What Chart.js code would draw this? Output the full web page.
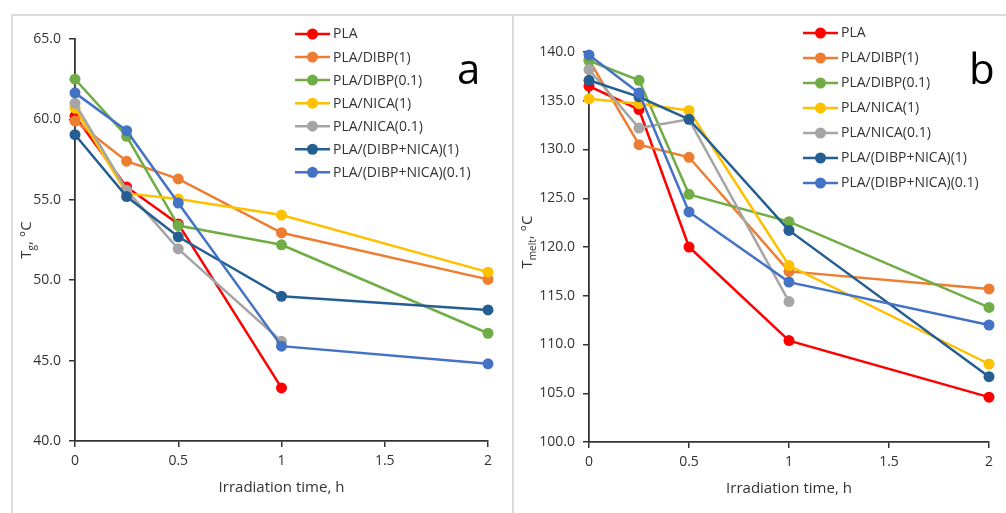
<!DOCTYPE html>
<html>
<head>
<meta charset="utf-8">
<script src="https://cdn.jsdelivr.net/npm/chart.js@4.4.1/dist/chart.umd.min.js"></script>
<style>
  html, body { margin: 0; padding: 0; background: #fff; }
  #wrap { position: relative; width: 1006px; height: 513px; overflow: hidden; background: #fff; }
  .ln { position: absolute; background: #dcdcdc; }
  #ca { position: absolute; left: 0; top: 0; }
  #cb { position: absolute; left: 513px; top: 0; }
</style>
</head>
<body>
<div id="wrap">
  <canvas id="ca" width="513" height="513" style="width:513px;height:513px"></canvas>
  <canvas id="cb" width="493" height="513" style="width:493px;height:513px"></canvas>
  <div class="ln" style="left:11px;top:14px;width:995px;height:2px"></div>
  <div class="ln" style="left:11px;top:14px;width:2px;height:499px"></div>
  <div class="ln" style="left:512px;top:14px;width:2px;height:499px"></div>
</div>
<script>
// ---- data ----
const times = [0, 0.25, 0.5, 1, 2];
const seriesNames = ['PLA', 'PLA/DIBP(1)', 'PLA/DIBP(0.1)', 'PLA/NICA(1)', 'PLA/NICA(0.1)', 'PLA/(DIBP+NICA)(1)', 'PLA/(DIBP+NICA)(0.1)'];
const seriesColors = ['#FF0000', '#ED7D31', '#70AD47', '#FFC000', '#A5A5A5', '#255E91', '#4472C4'];

// Panel a: Tg, °C
const tgPLA     = [60.2, 55.8, 53.5, 43.3, null];
const tgDIBP1   = [59.9, 57.4, 56.3, 52.95, 50.05];
const tgDIBP01  = [62.5, 58.95, 53.4, 52.2, 46.7];
const tgNICA1   = [60.7, 55.4, 55.05, 54.05, 50.5];
const tgNICA01  = [61.0, 55.6, 51.95, 46.2, null];
const tgDN1     = [59.05, 55.2, 52.7, 49.0, 48.15];
const tgDN01    = [61.65, 59.3, 54.8, 45.9, 44.8];

// Panel b: Tmelt, °C
const tmPLA     = [136.5, 134.1, 120.0, 110.4, 104.6];
const tmDIBP1   = [139.2, 130.5, 129.2, 117.5, 115.7];
const tmDIBP01  = [139.1, 137.1, 125.4, 122.6, 113.8];
const tmNICA1   = [135.2, 134.7, 134.0, 118.1, 108.0];
const tmNICA01  = [138.2, 132.2, 133.1, 114.4, null];
const tmDN1     = [137.1, 135.4, 133.1, 121.7, 106.7];
const tmDN01    = [139.7, 135.8, 123.6, 116.4, 112.0];

const xTicks = [0, 0.5, 1, 1.5, 2];
const tgTicks = [40, 45, 50, 55, 60, 65];
const tmTicks = [100, 105, 110, 115, 120, 125, 130, 135, 140];

const tgSeries = [tgPLA, tgDIBP1, tgDIBP01, tgNICA1, tgNICA01, tgDN1, tgDN01];
const tmSeries = [tmPLA, tmDIBP1, tmDIBP01, tmNICA1, tmNICA01, tmDN1, tmDN01];

const FONT = "'Open Sans', 'Liberation Sans', sans-serif";
const TXT = '#333333';
const AX = '#333333';

function makeDatasets(series) {
  const n = series.length;
  return series.map((vals, i) => ({
    label: seriesNames[i],
    data: times.map((t, j) => ({ x: t, y: vals[j] })).filter(p => p.y !== null),
    borderColor: seriesColors[i],
    backgroundColor: seriesColors[i],
    pointBackgroundColor: seriesColors[i],
    pointBorderWidth: 0,
    pointRadius: 5.5,
    borderWidth: 2.5,
    tension: 0,
    clip: false,
    order: n - i
  }));
}

const overlayPlugin = {
  id: 'overlay',
  afterDraw(chart, args, o) {
    const ctx = chart.ctx;
    ctx.save();
    // legend
    chart.data.datasets.forEach((ds, i) => {
      const y = o.legY + i * o.legDy;
      ctx.strokeStyle = ds.borderColor;
      ctx.lineWidth = 2.5;
      ctx.beginPath();
      ctx.moveTo(o.legX, y);
      ctx.lineTo(o.legX + 35, y);
      ctx.stroke();
      ctx.fillStyle = ds.borderColor;
      ctx.beginPath();
      ctx.arc(o.legX + 17.5, y, 5.5, 0, Math.PI * 2);
      ctx.fill();
      ctx.fillStyle = TXT;
      ctx.font = '14px ' + FONT;
      ctx.textBaseline = 'middle';
      ctx.textAlign = 'left';
      ctx.fillText(ds.label, o.legX + 38, y + 0.5);
    });
    // panel letter
    ctx.fillStyle = '#000';
    ctx.font = '42px ' + FONT;
    ctx.textBaseline = 'alphabetic';
    ctx.textAlign = 'left';
    ctx.fillText(o.letter, o.letterX, o.letterY);
    // x title
    ctx.fillStyle = TXT;
    ctx.font = '15px ' + FONT;
    ctx.textAlign = 'center';
    ctx.textBaseline = 'middle';
    const ca = chart.chartArea;
    ctx.fillText('Irradiation time, h', (ca.left + ca.right) / 2, o.xTitleY);
    // y title (rotated, with subscript)
    ctx.translate(o.yTitleX, o.yTitleY);
    ctx.rotate(-Math.PI / 2);
    ctx.textAlign = 'left';
    ctx.textBaseline = 'middle';
    const big = '15px ' + FONT, small = '10px ' + FONT;
    ctx.font = big; const wT = ctx.measureText('T').width;
    ctx.font = small; const wS = ctx.measureText(o.sub).width;
    ctx.font = big; const wR = ctx.measureText(', °C').width;
    let x = -(wT + wS + wR) / 2;
    ctx.font = big; ctx.fillText('T', x, 0); x += wT;
    ctx.font = small; ctx.fillText(o.sub, x, 5); x += wS;
    ctx.font = big; ctx.fillText(', °C', x, 0);
    ctx.restore();
  }
};

function makeChart(id, series, yMin, yMax, yTickVals, area, ov) {
  const canvas = document.getElementById(id);
  return new Chart(canvas, {
    type: 'line',
    data: { datasets: makeDatasets(series) },
    options: {
      responsive: false,
      animation: false,
      devicePixelRatio: 1,
      layout: { padding: { top: area.top, right: canvas.width - area.right, left: 0, bottom: 0 } },
      plugins: { legend: { display: false }, tooltip: { enabled: false }, overlay: ov },
      scales: {
        x: {
          type: 'linear',
          min: 0, max: 2,
          afterBuildTicks(s) { s.ticks = xTicks.map(v => ({ value: v })); },
          afterFit(s) { s.height = canvas.height - area.bottom; },
          ticks: { autoSkip: false, maxRotation: 0, color: TXT, font: { size: 14, family: FONT }, padding: 6,
                   callback: v => String(v) },
          grid: { display: true, drawOnChartArea: false, drawTicks: true, tickLength: 6, color: AX, lineWidth: 1.5 },
          border: { display: true, color: AX, width: 1.8 }
        },
        y: {
          type: 'linear',
          min: yMin, max: yMax,
          afterBuildTicks(s) { s.ticks = yTickVals.map(v => ({ value: v })); },
          afterFit(s) { s.width = area.left; },
          ticks: { autoSkip: false, color: TXT, font: { size: 14, family: FONT }, padding: 8,
                   callback: v => Number(v).toFixed(1) },
          grid: { display: true, drawOnChartArea: false, drawTicks: true, tickLength: 6, color: AX, lineWidth: 1.5 },
          border: { display: true, color: AX, width: 1.8 }
        }
      }
    },
    plugins: [overlayPlugin]
  });
}

makeChart('ca', tgSeries, 40, 65, tgTicks,
  { left: 75, right: 488, top: 39, bottom: 441 },
  { legX: 295, legY: 34, legDy: 23.05, letter: 'a', letterX: 457, letterY: 84,
    xTitleY: 488, yTitleX: 27, yTitleY: 240, sub: 'g' });

makeChart('cb', tmSeries, 100, 140, tmTicks,
  { left: 76, right: 476, top: 52, bottom: 442 },
  { legX: 290, legY: 33, legDy: 25, letter: 'b', letterX: 456, letterY: 84,
    xTitleY: 489, yTitleX: 15, yTitleY: 242, sub: 'melt' });
</script>
</body>
</html>
